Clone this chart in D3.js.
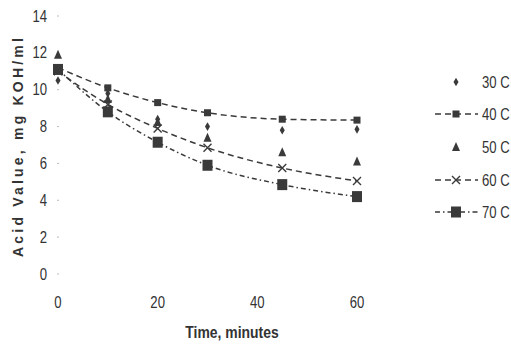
<!DOCTYPE html>
<html lang="en">
<head>
    <meta charset="UTF-8">
    <title>Acid value vs time</title>
    <script src="https://d3js.org/d3.v7.min.js"></script>
    <style>
        body { margin: 0; background: #fff; }
        svg { display: block; }
    </style>
</head>
<body>
    <svg id="chart" width="511" height="344"></svg>
    <script>
        // data
        const times = [0, 10, 20, 30, 45, 60];
        const seriesNames = ['30 C', '40 C', '50 C', '60 C', '70 C'];
        const acid30 = [10.5, 9.8, 8.4, 8.0, 7.8, 7.85];
        const acid40 = [11.2, 10.1, 9.3, 8.75, 8.4, 8.35];
        const acid50 = [11.9, 9.5, 8.25, 7.4, 6.6, 6.1];
        const acid60 = [11.0, 9.2, 7.9, 6.85, 5.75, 5.05];
        const acid70 = [11.1, 8.8, 7.15, 5.9, 4.85, 4.2];
        const yTicks = [0, 2, 4, 6, 8, 10, 12, 14];
        const xTicks = [0, 20, 40, 60];

        const svg = d3.select('#chart');
        const ink = '#3a3a3a';
        const font = '"Liberation Sans", Arial, sans-serif';
        const squeeze = 0.82; // reference uses a narrow face

        const x = d3.scaleLinear().domain([0, 60]).range([58, 357]);
        const y = d3.scaleLinear().domain([0, 14]).range([274, 16]);

        // narrow text helper: scale horizontally around the anchor point
        function narrowText(px, py, str, anchor, size, weight) {
            return svg.append('text')
                .attr('transform', `translate(${px},${py}) scale(${squeeze},1)`)
                .attr('text-anchor', anchor)
                .attr('font-family', font)
                .attr('font-size', size)
                .attr('font-weight', weight || 'normal')
                .attr('fill', '#333')
                .text(str);
        }

        // y tick labels + tiny tick dots
        yTicks.forEach(d => narrowText(47, y(d) + 5.5, d, 'end', '16px'));
        svg.selectAll('.ydot')
            .data(yTicks)
            .enter().append('rect')
            .attr('x', 57).attr('y', d => y(d) - 0.5)
            .attr('width', 2).attr('height', 1)
            .attr('fill', '#bbb');

        // x tick labels
        xTicks.forEach(d => narrowText(x(d), 308, d, 'middle', '16px'));

        // axis titles
        svg.append('text')
            .attr('transform', 'translate(23,146) rotate(-90)')
            .attr('text-anchor', 'middle')
            .attr('font-family', font)
            .attr('font-weight', 'bold')
            .attr('font-size', '14px')
            .attr('letter-spacing', '3.2px')
            .attr('fill', '#333')
            .text('Acid Value, mg KOH/ml');

        narrowText(232, 338, 'Time, minutes', 'middle', '17px', 'bold');

        const series = [
            { name: seriesNames[0], values: acid30, marker: 'diamond', dash: null },
            { name: seriesNames[1], values: acid40, marker: 'square', dash: '6,4' },
            { name: seriesNames[2], values: acid50, marker: 'triangle', dash: null },
            { name: seriesNames[3], values: acid60, marker: 'cross', dash: '6,4' },
            { name: seriesNames[4], values: acid70, marker: 'bigsquare', dash: '5,3,1.5,3' }
        ];

        function drawMarker(g, type) {
            if (type === 'diamond') {
                g.append('path').attr('d', d3.symbol(d3.symbolDiamond, 22)()).attr('fill', ink);
            } else if (type === 'square') {
                g.append('rect').attr('x', -3.5).attr('y', -3.5).attr('width', 7).attr('height', 7).attr('fill', ink);
            } else if (type === 'triangle') {
                g.append('path').attr('d', 'M0,-5L4,4L-4,4Z').attr('fill', ink);
            } else if (type === 'cross') {
                g.append('path').attr('d', 'M-4,-4L4,4M-4,4L4,-4')
                    .attr('stroke', ink).attr('stroke-width', 1.4).attr('fill', 'none');
            } else {
                g.append('rect').attr('x', -5).attr('y', -5.5).attr('width', 10).attr('height', 11).attr('fill', ink);
            }
        }

        const line = d3.line()
            .x((d, i) => x(times[i]))
            .y(d => y(d))
            .curve(d3.curveMonotoneX);

        // lines
        series.filter(s => s.dash).forEach(s => {
            svg.append('path')
                .datum(s.values)
                .attr('d', line)
                .attr('fill', 'none')
                .attr('stroke', ink)
                .attr('stroke-width', 1.5)
                .attr('stroke-dasharray', s.dash);
        });

        // markers
        series.forEach(s => {
            s.values.forEach((v, i) => {
                const g = svg.append('g')
                    .attr('transform', `translate(${x(times[i])},${y(v)})`);
                drawMarker(g, s.marker);
            });
        });

        // legend
        const legendY = [82, 114, 147, 180, 212];
        series.forEach((s, i) => {
            const ly = legendY[i];
            if (s.dash) {
                svg.append('line')
                    .attr('x1', 435).attr('x2', 478)
                    .attr('y1', ly).attr('y2', ly)
                    .attr('stroke', ink).attr('stroke-width', 1.5)
                    .attr('stroke-dasharray', s.dash);
            }
            const g = svg.append('g').attr('transform', `translate(456,${ly})`);
            drawMarker(g, s.marker);
            narrowText(482, ly + 6, s.name, 'start', '16px');
        });
    </script>
</body>
</html>
